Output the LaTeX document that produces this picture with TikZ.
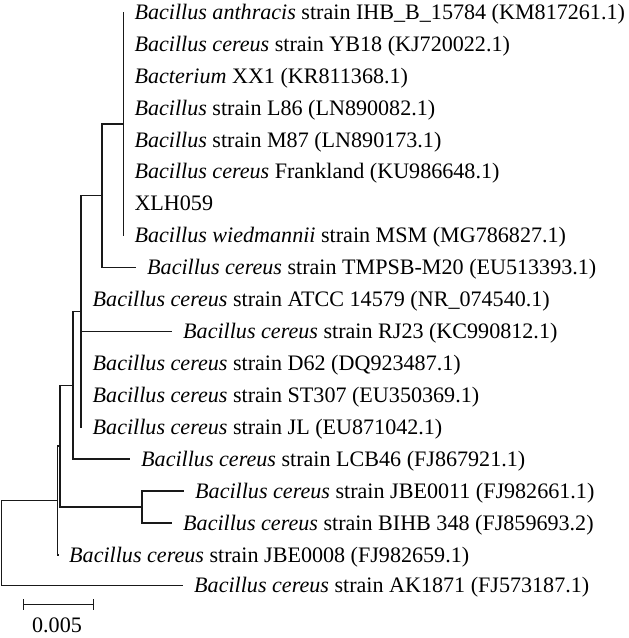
\documentclass[tikz,border=0pt]{standalone}
\usepackage{fontspec}
\setmainfont{Liberation Serif}
\newcommand\leaf[4]{\coordinate (t#1) at (#2,#3); \node[taxon] (n#1) at ([shift={(11,7.2)}]t#1) {#4};}
\begin{document}
\begin{tikzpicture}[x=1pt,y=-1pt,
  branch/.style={line width=1.6pt, draw=black!90},
  taxon/.style={anchor=base west, inner sep=0pt, font=\fontsize{22.1}{24}\selectfont},
]
\useasboundingbox (0,0) rectangle (629,638);
% leaves
\leaf{0}{123.3}{12.0}{\textit{Bacillus anthracis} strain IHB\_B\_15784 (KM817261.1)}
\leaf{1}{123.3}{43.9}{\textit{Bacillus cereus} strain YB18 (KJ720022.1)}
\leaf{2}{123.3}{75.9}{\textit{Bacterium} XX1 (KR811368.1)}
\leaf{3}{123.3}{107.8}{\textit{Bacillus} strain L86 (LN890082.1)}
\leaf{4}{123.3}{139.8}{\textit{Bacillus} strain M87 (LN890173.1)}
\leaf{5}{123.3}{171.7}{\textit{Bacillus cereus} Frankland (KU986648.1)}
\leaf{6}{123.3}{203.6}{XLH059}
\leaf{7}{123.3}{235.6}{\textit{Bacillus wiedmannii} strain MSM (MG786827.1)}
\leaf{8}{136}{267.5}{\textit{Bacillus cereus} strain TMPSB-M20 (EU513393.1)}
\leaf{9}{81.5}{299.5}{\textit{Bacillus cereus} strain ATCC 14579 (NR\_074540.1)}
\leaf{10}{172}{331.4}{\textit{Bacillus cereus} strain RJ23 (KC990812.1)}
\leaf{11}{81.5}{363.3}{\textit{Bacillus cereus} strain D62 (DQ923487.1)}
\leaf{12}{81.5}{395.3}{\textit{Bacillus cereus} strain ST307 (EU350369.1)}
\leaf{13}{81.5}{427.2}{\textit{Bacillus cereus} strain JL (EU871042.1)}
\leaf{14}{130}{459.2}{\textit{Bacillus cereus} strain LCB46 (FJ867921.1)}
\leaf{15}{184}{491.1}{\textit{Bacillus cereus} strain JBE0011 (FJ982661.1)}
\leaf{16}{172}{523.0}{\textit{Bacillus cereus} strain BIHB 348 (FJ859693.2)}
\leaf{17}{58}{555.0}{\textit{Bacillus cereus} strain JBE0008 (FJ982659.1)}
\leaf{18}{183}{585.5}{\textit{Bacillus cereus} strain AK1871 (FJ573187.1)}
% internal nodes
\coordinate (F) at (123.3,123.8);
\coordinate (E) at (101.7,195.65);
\coordinate (A) at (80.7,311.4);
\coordinate (B) at (73,385.3);
\coordinate (G) at (142,507.05);
\coordinate (C) at (60,446.2);
\coordinate (D) at (57.5,500.6);
\coordinate (R) at (1.5,543);
% branches
\foreach \i in {0,...,7} \draw[branch] (F) |- (t\i);
\draw[branch] (E) |- (F);
\draw[branch] (E) |- (t8);
\draw[branch] (A) |- (E);
\foreach \i in {9,...,13} \draw[branch] (A) |- (t\i);
\draw[branch] (B) |- (A);
\draw[branch] (B) |- (t14);
\draw[branch] (G) |- (t15);
\draw[branch] (G) |- (t16);
\draw[branch] (C) |- (B);
\draw[branch] (C) |- (G);
\draw[branch] (D) |- (C);
\draw[branch] (D) |- (t17);
\draw[branch] (R) |- (D);
\draw[branch] (R) |- (t18);
% scale bar
\coordinate (s1) at (23.3,604.5);
\coordinate (s2) at (93.3,604.5);
\draw[branch] (s1) -- (s2);
\draw[branch] ([yshift=5.5pt]s1) -- ([yshift=-5.5pt]s1);
\draw[branch] ([yshift=5.5pt]s2) -- ([yshift=-5.5pt]s2);
\node[taxon, anchor=base] (sl) at (57,632.5) {0.005};
\end{tikzpicture}
\end{document}
